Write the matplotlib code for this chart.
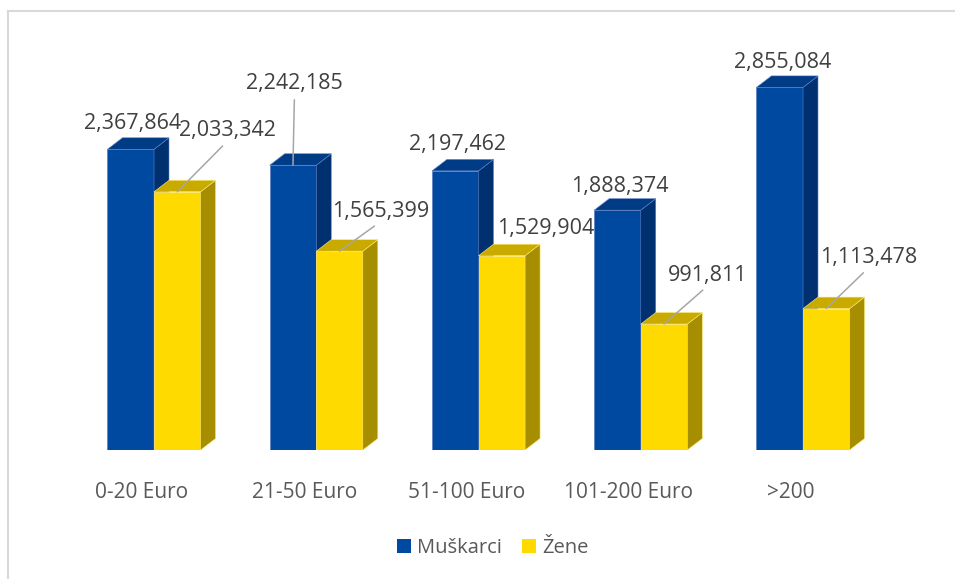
import matplotlib.pyplot as plt
from matplotlib.patches import Polygon, Patch
from matplotlib.lines import Line2D

categories = ["0-20 Euro", "21-50 Euro", "51-100 Euro", "101-200 Euro", ">200"]
muskarci = [2367864, 2242185, 2197462, 1888374, 2855084]
zene = [2033342, 1565399, 1529904, 991811, 1113478]
series_names = ["Muškarci", "Žene"]

plt.rcParams["font.family"] = ["Open Sans", "DejaVu Sans"]

PX = 0.72  # points per pixel at dpi 100
W = 0.287  # front face width (data units)
DX = 0.0924  # depth offset in x (data units)
DY = 90500  # depth offset in y (data units)

blue = {"front": "#0049A0", "side": "#00306F", "top": "#003B86", "edge": "#5F84C4"}
yellow = {"front": "#FFDA00", "side": "#A68E00", "top": "#C9AB00", "edge": "#FFE870"}

fig = plt.figure(figsize=(9.55, 5.79), dpi=100)
ax = fig.add_axes([60 / 955, 129 / 579, 880 / 955, 420 / 579])
ax.set_xlim(-0.5794, 4.8444)
ax.set_ylim(0, 3.307e6)

x = list(range(len(categories)))


def draw_3d(lefts, values, col):
    ax.bar(lefts, values, width=W, align="edge", color=col["front"],
           edgecolor=col["edge"], linewidth=0.6, zorder=2)
    for x0, v in zip(lefts, values):
        x1 = x0 + W
        side = Polygon([(x1, 0), (x1 + DX, DY), (x1 + DX, v + DY), (x1, v)],
                       closed=True, facecolor=col["side"], edgecolor=col["edge"],
                       linewidth=0.4, zorder=2)
        top = Polygon([(x0, v), (x1, v), (x1 + DX, v + DY), (x0 + DX, v + DY)],
                      closed=True, facecolor=col["top"], edgecolor=col["edge"],
                      linewidth=0.4, zorder=2)
        ax.add_patch(side)
        ax.add_patch(top)


# blue first, then yellow on top of the blue side faces
for i in x:
    draw_3d([i - W], [muskarci[i]], blue)
    draw_3d([i], [zene[i]], yellow)

# data labels: offsets in pixels from front-top centre of each bar
blue_off = [(2, 26), (1.5, 81.5), (2, 26), (2, 24), (3, 25)]
blue_lead = [False, True, False, False, False]
yel_off = [(50, 61), (41, 40), (44, 27), (44, 49), (42, 51)]
yel_lead = [True, True, False, True, True]

lead_props = dict(arrowstyle="-", color="#A6A6A6", lw=1.1, shrinkA=2, shrinkB=0,
                  relpos=(0.5, 0))


def label(xc, v, off, lead):
    ax.annotate(f"{v:,}", xy=(xc, v), xytext=(off[0] * PX, off[1] * PX),
                textcoords="offset points", ha="center", va="center",
                fontsize=15.5, color="#404040", zorder=5,
                arrowprops=lead_props if lead else None)


for i in x:
    label(i - W / 2, muskarci[i], blue_off[i], blue_lead[i])
    label(i + W / 2, zene[i], yel_off[i], yel_lead[i])

ax.set_xticks([i - 0.074 for i in x], categories)
ax.tick_params(axis="x", length=0, pad=23, labelsize=15, labelcolor="#595959")
ax.set_yticks([])
for s in ax.spines.values():
    s.set_visible(False)

handles = [Patch(facecolor=blue["front"]), Patch(facecolor=yellow["front"])]
fig.legend(handles, series_names, loc="center", bbox_to_anchor=(493 / 955, 1 - 548 / 579),
           ncol=2, frameon=False, fontsize=14.5, labelcolor="#595959",
           handlelength=0.7, handleheight=0.7, handletextpad=0.3, columnspacing=1.0)

# chart area border (top and left visible)
fig.add_artist(Line2D([7.5 / 955, 7.5 / 955], [0, 1 - 10.5 / 579], color="#D9D9D9", lw=1.5))
fig.add_artist(Line2D([7.5 / 955, 1], [1 - 10.5 / 579, 1 - 10.5 / 579], color="#D9D9D9", lw=1.5))

fig.savefig("out.png", dpi=100)
